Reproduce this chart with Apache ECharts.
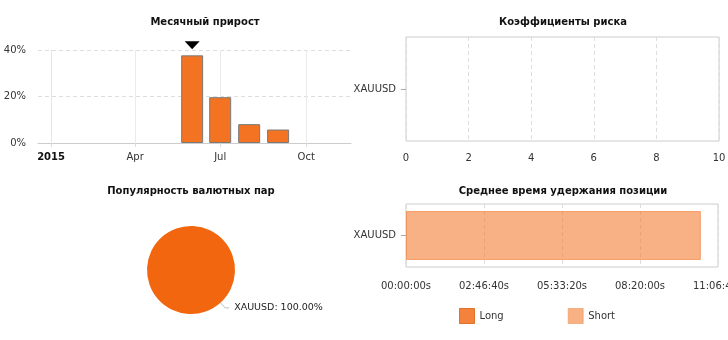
<!DOCTYPE html>
<html><head><meta charset="utf-8">
<script src="https://cdn.jsdelivr.net/npm/echarts@6/dist/echarts.min.js"></script>
<style>html,body{margin:0;padding:0;background:#fff}#c{width:728px;height:340px}</style>
</head><body><div id="c"></div>
<script>
const titles = ['Месячный прирост', 'Коэффициенты риска', 'Популярность валютных пар', 'Среднее время удержания позиции'];
const growthMonths = ['2015-06-01', '2015-07-01', '2015-08-01', '2015-09-01'];
const growthValues = [37.7, 19.7, 8.1, 5.8];
const growthTickDates = ['2015-01-01', '2015-04-01', '2015-07-01', '2015-10-01'];
const growthTickLabels = ['2015', 'Apr', 'Jul', 'Oct'];
const growthRange = ['2014-12-18', '2015-11-18'];
const riskCategories = ['XAUUSD'];
const riskValues = [];
const pairNames = ['XAUUSD'];
const pairShares = [100];
const holdCategories = ['XAUUSD'];
const holdSeriesNames = ['Long', 'Short'];
const holdLong = [0];
const holdShort = [37800];

// day offset from 2015-01-01 (used as a linear time scale)
const EPOCH = Date.UTC(2015, 0, 1);
function day(s) { const p = s.split('-').map(Number); return Math.round((Date.UTC(p[0], p[1] - 1, p[2]) - EPOCH) / 86400000); }
function hms(v) {
  const h = Math.floor(v / 3600), m = Math.floor((v % 3600) / 60), s = Math.round(v % 60);
  const z = n => (n < 10 ? '0' : '') + n;
  return z(h) + ':' + z(m) + ':' + z(s) + 's';
}
const tickDays = growthTickDates.map(day);
const FONT = 'DejaVu Sans';
const chart = echarts.init(document.getElementById('c'), null, { renderer: 'canvas' });
const titlePos = [[205, 22], [563, 22], [191, 191], [563, 191]];

chart.setOption({
  animation: false,
  textStyle: { fontFamily: FONT, fontSize: 10, color: '#333' },
  graphic: titles.map((t, i) => ({
    type: 'text', x: titlePos[i][0], y: titlePos[i][1],
    style: { text: t, fill: '#111', font: 'bold 10px "DejaVu Sans"', textAlign: 'center', textVerticalAlign: 'middle' }
  })),
  legend: {
    left: 454, top: 303, itemWidth: 15, itemHeight: 15, itemGap: 64, icon: 'rect',
    textStyle: { fontFamily: FONT, fontSize: 10, color: '#333' },
    data: [
      { name: holdSeriesNames[0], itemStyle: { borderColor: '#E0661A', borderWidth: 1 } },
      { name: holdSeriesNames[1], itemStyle: { borderColor: '#F58A45', borderWidth: 1 } }
    ]
  },
  grid: [
    { left: 38, top: 50, width: 313, height: 93, outerBoundsMode: 'none' },
    { left: 406, top: 37, right: 9, height: 104, show: true, borderColor: '#ccc', borderWidth: 1, outerBoundsMode: 'none' },
    { left: 406, top: 204, right: 10, height: 63, show: true, borderColor: '#ccc', borderWidth: 1, outerBoundsMode: 'none' }
  ],
  xAxis: [
    {
      gridIndex: 0, type: 'value', min: day(growthRange[0]), max: day(growthRange[1]),
      axisLine: { lineStyle: { color: '#ccc' } },
      axisTick: { show: true, length: 4, lineStyle: { color: '#ddd' }, customValues: tickDays },
      axisLabel: {
        customValues: tickDays, margin: 9, color: '#333', fontSize: 10, fontFamily: FONT,
        formatter: v => { const i = tickDays.indexOf(v); const l = i >= 0 ? growthTickLabels[i] : ''; return i === 0 ? '{b|' + l + '}' : l; },
        rich: { b: { fontWeight: 'bold', fontSize: 10, fontFamily: FONT, color: '#111' } }
      },
      splitLine: { show: true, lineStyle: { color: '#eaeaea', type: 'solid' } }
    },
    {
      gridIndex: 1, type: 'value', min: 0, max: 10, interval: 2,
      axisLine: { show: false }, axisTick: { show: false },
      axisLabel: { margin: 12, color: '#333', fontSize: 10 },
      splitLine: { show: true, lineStyle: { color: '#ddd', type: [4, 3] } }
    },
    {
      gridIndex: 2, type: 'value', min: 0, max: 40000, interval: 10000,
      axisLine: { show: false }, axisTick: { show: false },
      axisLabel: { margin: 14, color: '#333', fontSize: 10, formatter: hms },
      splitLine: { show: true, lineStyle: { color: '#ddd', type: [4, 3] } }
    }
  ],
  yAxis: [
    {
      gridIndex: 0, type: 'value', min: 0, max: 40, interval: 20,
      axisLine: { show: true, lineStyle: { color: '#e6e6e6' } }, axisTick: { show: false },
      axisLabel: { formatter: '{value}%', margin: 12, color: '#333', fontSize: 10 },
      splitLine: { show: true, lineStyle: { color: '#ddd', type: [4, 3] } }
    },
    {
      gridIndex: 1, type: 'category', data: riskCategories,
      axisLine: { show: false }, axisTick: { show: true, length: 5, alignWithLabel: true, lineStyle: { color: '#aaa' } },
      axisLabel: { margin: 10, color: '#333', fontSize: 10 }, splitLine: { show: false }
    },
    {
      gridIndex: 2, type: 'category', data: holdCategories,
      axisLine: { show: false }, axisTick: { show: true, length: 5, alignWithLabel: true, lineStyle: { color: '#aaa' } },
      axisLabel: { margin: 10, color: '#333', fontSize: 10 }, splitLine: { show: false }
    }
  ],
  series: [
    {
      type: 'bar', xAxisIndex: 0, yAxisIndex: 0, barWidth: 22,
      data: growthMonths.map((m, i) => [day(m), growthValues[i]]),
      itemStyle: { color: '#F37322', borderColor: '#7a7a7a', borderWidth: 1 },
      markPoint: {
        symbol: 'triangle', symbolRotate: 180, symbolSize: [15, 8], symbolOffset: [0, -10],
        label: { show: false }, itemStyle: { color: '#000' },
        data: [{ type: 'max' }]
      }
    },
    {
      type: 'bar', xAxisIndex: 1, yAxisIndex: 1, data: riskValues,
      itemStyle: { color: '#F37322' }
    },
    {
      name: holdSeriesNames[0], type: 'bar', xAxisIndex: 2, yAxisIndex: 2, stack: 'hold', barWidth: 49,
      data: holdLong,
      itemStyle: { color: '#F37021', opacity: 0.88, borderWidth: 0 }
    },
    {
      name: holdSeriesNames[1], type: 'bar', xAxisIndex: 2, yAxisIndex: 2, stack: 'hold', barWidth: 49,
      data: holdShort,
      itemStyle: { color: '#F37021', opacity: 0.55, borderColor: '#F37021', borderWidth: 1 }
    },
    {
      type: 'pie', center: [191, 270], radius: 44, startAngle: 132,
      data: pairNames.map((n, i) => ({ name: n, value: pairShares[i] })),
      itemStyle: { color: '#F2660F' },
      label: { color: '#222', fontSize: 9.5, fontFamily: FONT, formatter: p => p.name + ': ' + p.percent.toFixed(2) + '%' },
      labelLine: { length: 7, length2: 4, lineStyle: { color: '#bbb' } }
    }
  ]
});
</script></body></html>
